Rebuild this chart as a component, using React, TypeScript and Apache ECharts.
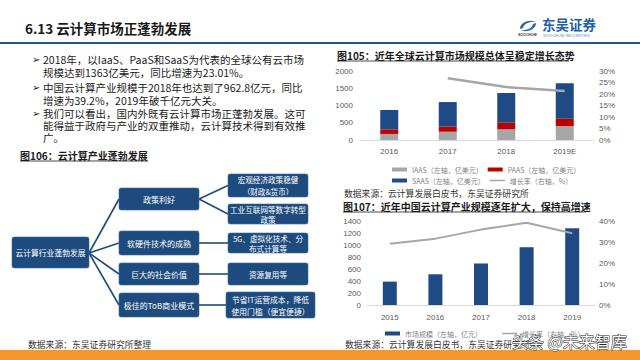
import React, { useEffect, useRef } from "react";
import * as echarts from "echarts";

// ---------- data ----------
const globalYears = ["2016", "2017", "2018", "2019E"];
const iaasValues = [175, 240, 310, 405];
const paasValues = [135, 145, 190, 210];
const saasValues = [560, 715, 863, 1030];
const globalGrowth: (number | null)[] = [null, 26.8, 23.0, 21.3];

const chinaYears = ["2015", "2016", "2017", "2018", "2019"];
const chinaMarket = [390, 512, 692, 962.8, 1280];
const chinaGrowth = [29.2, 31.6, 35.9, 39.2, 34.2];

const nameIaas = "IAAS（左轴，亿美元）";
const namePaas = "PAAS（左轴，亿美元）";
const nameSaas = "SAAS（左轴，亿美元）";
const nameGrowth = "增长率（右轴，%）";
const nameMarket = "市场规模（左轴，亿元）";

const pageTitle = "6.13 云计算市场正蓬勃发展";
const bodyLines = [
  "2018年，以IaaS、PaaS和SaaS为代表的全球公有云市场",
  "规模达到1363亿美元，同比增速为23.01%。",
  "中国云计算产业规模于2018年也达到了962.8亿元，同比",
  "增速为39.2%，2019年破千亿元大关。",
  "我们可以看出，国内外既有云计算市场正蓬勃发展。这可",
  "能得益于政府与产业的双重推动，云计算技术得到有效推",
  "广。",
];
const bulletFlags = [true, false, true, false, true, false, false];
const fig106Title = "图106：云计算产业蓬勃发展";
const fig105Title = "图105：近年全球云计算市场规模总体呈稳定增长态势";
const fig107Title = "图107：近年中国云计算产业规模逐年扩大，保持高增速";
const sourceLeft = "数据来源：东吴证券研究所整理";
const sourceRight = "数据来源：云计算发展白皮书，东吴证券研究所";

const diagramRoot = "云计算行业蓬勃发展";
const diagramLevel2 = ["政策利好", "软硬件技术的成熟", "巨大的社会价值", "极佳的ToB商业模式"];
const diagramLevel3 = [
  ["宏观经济政策稳健", "（财政&货币）"],
  ["工业互联网等数字转型", "政策"],
  ["5G、虚拟化技术、分", "布式计算等"],
  ["资源复用等"],
  ["节省IT运营成本，降低", "使用门槛（便宜便捷）"],
];

const CJK = "'Noto Sans CJK SC', 'Noto Sans', sans-serif";
const NAVY = "#1F4A86";
const BOX = "#1E4B7E";
const LINE_ICON = "path://M0,0H15V1.5H0Z";

echarts.graphic.registerShape(
  "sclogo",
  echarts.graphic.extendPath(
    "M2,10 C2,3 12,0 18,3 C13,2 6,4 5,9 Z M18,4 C18,11 8,14 2,11 C7,12 14,10 15,5 Z",
    {}
  )
);

function textEl(text: string, x: number, y: number, size: number, opts: any = {}) {
  return {
    type: "text",
    silent: true,
    style: {
      text,
      x,
      y,
      fontSize: size,
      fontFamily: opts.family || CJK,
      fontWeight: opts.weight || "normal",
      fill: opts.fill || "#1a1a1a",
      align: opts.align || "left",
      verticalAlign: "middle",
      lineHeight: opts.lineHeight || Math.round(size * 1.15),
      stroke: opts.stroke,
      lineWidth: opts.lineWidth,
    },
  };
}

function boxEl(x: number, y: number, w: number, h: number, lines: string[], size = 7.8) {
  const els: any[] = [
    {
      type: "rect",
      silent: true,
      shape: { x, y, width: w, height: h, r: 2 },
      style: { fill: BOX, stroke: "#3a6aa0", lineWidth: 0.6 },
    },
  ];
  const gap = h >= 23 ? 12 : 10;
  const start = y + h / 2 - ((lines.length - 1) * gap) / 2;
  lines.forEach((t, i) => {
    els.push(textEl(t, x + w / 2, start + i * gap, size, { fill: "#ffffff", align: "center", lineHeight: 9 }));
  });
  return els;
}

function lineEl(x1: number, y1: number, x2: number, y2: number, w = 1.6, color = BOX) {
  return { type: "line", silent: true, shape: { x1, y1, x2, y2 }, style: { stroke: color, lineWidth: w } };
}

export default function App() {
  const ref = useRef<HTMLDivElement>(null);
  useEffect(() => {
    if (!ref.current) return;
    const chart = echarts.init(ref.current, undefined, { renderer: "svg" });

    const graphics: any[] = [];
    // header
    graphics.push(textEl(pageTitle, 25, 28, 13.5, { weight: "bold" }));
    graphics.push({ type: "rect", silent: true, shape: { x: 0, y: 42, width: 640, height: 2 }, style: { fill: "#1F5597" } });
    // logo
    graphics.push({ type: "sclogo", silent: true, x: 518, y: 19, scaleX: 1, scaleY: 1, style: { fill: "#2A64B0" } });
    graphics.push(textEl("东吴证券", 542, 24, 13.5, { weight: "bold", fill: "#1F5FAE" }));
    graphics.push(textEl("SOOCHOW SECURITIES", 543, 35, 4, { family: "'Liberation Sans', sans-serif", fill: "#5a8cc8" }));
    graphics.push(textEl("SOOCHOW", 518, 35, 3.5, { family: "'Liberation Sans', sans-serif", fill: "#333", weight: "bold" }));

    // body text
    const lineYs = [59, 72, 87, 100, 113, 125, 137];
    bodyLines.forEach((t, i) => {
      if (bulletFlags[i]) graphics.push(textEl("➢", 32, lineYs[i], 10, { family: "'DejaVu Sans', sans-serif", lineHeight: 11 }));
      graphics.push(textEl(t, 43, lineYs[i], 10.5, { lineHeight: 11.5 }));
    });

    // figure titles with underline
    graphics.push(textEl(fig106Title, 20, 155, 10, { weight: "bold" }));
    graphics.push(lineEl(20, 161, 148, 161, 0.8, "#1a1a1a"));
    graphics.push(textEl(fig105Title, 337, 55, 10, { weight: "bold" }));
    graphics.push(lineEl(337, 61, 569, 61, 0.8, "#1a1a1a"));
    graphics.push(textEl(fig107Title, 343, 206, 10, { weight: "bold" }));
    graphics.push(lineEl(343, 212, 586, 212, 0.8, "#1a1a1a"));

    // diagram connectors
    const rootR = { x: 89, y: 253 };
    const l2Boxes = [
      [119, 188, 80, 22],
      [119, 231, 80, 24],
      [119, 263, 80, 22],
      [119, 293, 80, 24],
    ];
    const l3Boxes = [
      [228, 174, 80, 23],
      [228, 204, 80, 20],
      [228, 233, 80, 20],
      [228, 263, 80, 22],
      [226, 292, 89, 26],
    ];
    l2Boxes.forEach((b) => graphics.push(lineEl(rootR.x, rootR.y, b[0], b[1] + b[3] / 2)));
    graphics.push(lineEl(199, 199, 228, 185.5));
    graphics.push(lineEl(199, 199, 228, 214));
    graphics.push(lineEl(199, 243, 228, 243));
    graphics.push(lineEl(199, 274, 228, 274));
    graphics.push(lineEl(199, 305, 226, 305));
    // boxes
    graphics.push(...boxEl(12, 237, 77, 31, [diagramRoot], 7.8));
    diagramLevel2.forEach((t, i) => {
      const b = l2Boxes[i];
      graphics.push(...boxEl(b[0], b[1], b[2], b[3], [t], 8));
    });
    diagramLevel3.forEach((lines, i) => {
      const b = l3Boxes[i];
      graphics.push(...boxEl(b[0], b[1], b[2], b[3], lines, i === 4 ? 7.8 : 7.6));
    });

    // sources
    graphics.push(textEl(sourceLeft, 28, 344, 8.8, { fill: "#333" }));
    graphics.push(textEl(sourceRight, 344, 193, 8.8, { fill: "#333" }));
    graphics.push(textEl(sourceRight, 345, 344, 8.8, { fill: "#333" }));

    // bottom bar
    graphics.push({ type: "rect", silent: true, shape: { x: 0, y: 350, width: 640, height: 10 }, style: { fill: "#F5962A" } });
    // watermark
    graphics.push(textEl("头条 @未来智库", 512, 341, 16, { fill: "#ffffff", stroke: "#222222", lineWidth: 1 }));

    const axisLabel = { color: "#595959", fontSize: 8, fontFamily: "'Liberation Sans', Arial, sans-serif" };
    const plain = (v: number) => String(v);
    const legendText = { color: "#7f7f7f", fontSize: 7, fontFamily: CJK };

    chart.setOption({
      animation: false,
      backgroundColor: "#ffffff",
      grid: [
        { left: 360, width: 234, top: 71, height: 69 },
        { left: 367, width: 228, top: 221, height: 84 },
      ],
      xAxis: [
        {
          type: "category",
          gridIndex: 0,
          data: globalYears,
          axisLine: { lineStyle: { color: "#d9d9d9" } },
          axisTick: { show: false },
          axisLabel: { ...axisLabel, margin: 7 },
        },
        {
          type: "category",
          gridIndex: 1,
          data: chinaYears,
          axisLine: { lineStyle: { color: "#d9d9d9" } },
          axisTick: { show: false },
          axisLabel: { ...axisLabel, margin: 8 },
        },
      ],
      yAxis: [
        {
          type: "value", gridIndex: 0, min: 0, max: 2000, interval: 500,
          splitLine: { show: false }, axisLine: { show: false }, axisTick: { show: false },
          axisLabel: { ...axisLabel, margin: 7, formatter: plain },
        },
        {
          type: "value", gridIndex: 0, min: 0, max: 30, interval: 5, position: "right",
          splitLine: { show: false }, axisLine: { show: false }, axisTick: { show: false },
          axisLabel: { ...axisLabel, margin: 5, formatter: "{value}%" },
        },
        {
          type: "value", gridIndex: 1, min: 0, max: 1400, interval: 200,
          splitLine: { show: false }, axisLine: { show: false }, axisTick: { show: false },
          axisLabel: { ...axisLabel, margin: 6, formatter: plain },
        },
        {
          type: "value", gridIndex: 1, min: 0, max: 40, interval: 10, position: "right",
          splitLine: { show: false }, axisLine: { show: false }, axisTick: { show: false },
          axisLabel: { ...axisLabel, margin: 4, formatter: "{value}%" },
        },
      ],
      legend: [
        {
          left: 387, top: 161, itemWidth: 15, itemHeight: 4, itemGap: 5,
          textStyle: legendText,
          data: [{ name: nameIaas, icon: "rect" }, { name: namePaas, icon: "rect" }],
        },
        {
          left: 387, top: 172, itemWidth: 15, itemHeight: 4, itemGap: 5,
          textStyle: legendText,
          data: [{ name: nameSaas, icon: "rect" }, { name: nameGrowth, icon: LINE_ICON }],
        },
        {
          left: 380, top: 325, itemWidth: 15, itemHeight: 4, itemGap: 20,
          textStyle: legendText,
          data: [{ name: nameMarket, icon: "rect" }, { name: nameGrowth, icon: LINE_ICON }],
        },
      ],
      series: [
        { name: nameIaas, type: "bar", stack: "g", xAxisIndex: 0, yAxisIndex: 0, barWidth: 18, data: iaasValues, itemStyle: { color: "#A6A6A6" } },
        { name: namePaas, type: "bar", stack: "g", xAxisIndex: 0, yAxisIndex: 0, barWidth: 18, data: paasValues, itemStyle: { color: "#C00000" } },
        { name: nameSaas, type: "bar", stack: "g", xAxisIndex: 0, yAxisIndex: 0, barWidth: 18, data: saasValues, itemStyle: { color: NAVY } },
        {
          name: nameGrowth, type: "line", xAxisIndex: 0, yAxisIndex: 1, data: globalGrowth,
          symbol: "none", smooth: false, lineStyle: { color: "#A6A6A6", width: 2.5 }, itemStyle: { color: "#A6A6A6" },
        },
        { name: nameMarket, type: "bar", xAxisIndex: 1, yAxisIndex: 2, barWidth: 14, data: chinaMarket, itemStyle: { color: NAVY } },
        {
          name: nameGrowth, type: "line", xAxisIndex: 1, yAxisIndex: 3, data: chinaGrowth,
          symbol: "none", lineStyle: { color: "#A6A6A6", width: 2 }, itemStyle: { color: "#A6A6A6" },
        },
      ],
      graphic: graphics,
    });
    return () => chart.dispose();
  }, []);
  return (
    <div
      ref={ref}
      style={{ position: "fixed", left: 0, top: 0, width: 640, height: 360, background: "#fff" }}
    />
  );
}
